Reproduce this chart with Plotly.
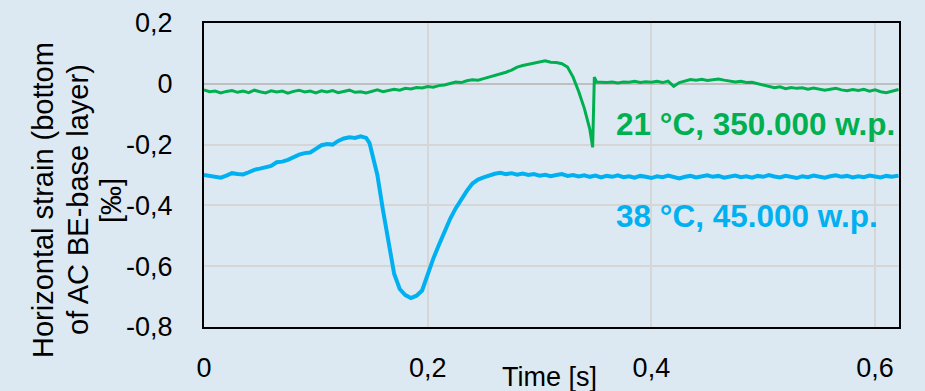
import plotly.graph_objects as go

# ---------------- data ----------------
green_t = [0.000, 0.005, 0.010, 0.015, 0.020, 0.025, 0.030, 0.035, 0.040, 0.045,
           0.050, 0.055, 0.060, 0.065, 0.070, 0.075, 0.080, 0.085, 0.090, 0.095,
           0.100, 0.105, 0.110, 0.115, 0.120, 0.125, 0.130, 0.135, 0.140, 0.145,
           0.150, 0.155, 0.160, 0.165, 0.170, 0.175, 0.180, 0.185, 0.190, 0.195,
           0.200, 0.205, 0.210, 0.215, 0.220, 0.225, 0.230, 0.235, 0.240, 0.245,
           0.250, 0.255, 0.260, 0.265, 0.270, 0.275, 0.280, 0.285, 0.290, 0.295,
           0.300, 0.305, 0.310, 0.315, 0.320, 0.325, 0.330, 0.335, 0.340, 0.345,
           0.3475, 0.3490, 0.3510, 0.355, 0.360, 0.365, 0.370, 0.375, 0.380, 0.385,
           0.390, 0.395, 0.400, 0.405, 0.410, 0.415, 0.420, 0.425, 0.430, 0.435,
           0.440, 0.445, 0.450, 0.455, 0.460, 0.465, 0.470, 0.475, 0.480, 0.485,
           0.490, 0.495, 0.500, 0.505, 0.510, 0.515, 0.520, 0.525, 0.530, 0.535,
           0.540, 0.545, 0.550, 0.555, 0.560, 0.565, 0.570, 0.575, 0.580, 0.585,
           0.590, 0.595, 0.600, 0.605, 0.610, 0.615, 0.621]
green_v = [-0.020, -0.026, -0.024, -0.030, -0.025, -0.022, -0.028, -0.024, -0.029, -0.021,
           -0.026, -0.030, -0.023, -0.027, -0.024, -0.031, -0.025, -0.021, -0.027, -0.024,
           -0.030, -0.023, -0.027, -0.022, -0.029, -0.025, -0.021, -0.028, -0.026, -0.030,
           -0.024, -0.020, -0.026, -0.022, -0.018, -0.021, -0.015, -0.017, -0.012, -0.014,
           -0.009, -0.011, -0.006, -0.004, 0.002, 0.006, 0.004, 0.010, 0.013, 0.012,
           0.017, 0.022, 0.028, 0.034, 0.038, 0.045, 0.055, 0.060, 0.064, 0.068,
           0.073, 0.076, 0.071, 0.070, 0.066, 0.055, 0.022, -0.025, -0.080, -0.150,
           -0.209, 0.022, 0.006, 0.005, 0.004, 0.006, 0.003, 0.006, 0.005, 0.008,
           0.004, 0.007, 0.005, 0.008, 0.004, 0.009, -0.008, 0.004, 0.010, 0.014,
           0.012, 0.015, 0.011, 0.013, 0.016, 0.012, 0.010, 0.006, 0.008, 0.004,
           0.005, 0.001, -0.004, -0.008, -0.013, -0.010, -0.016, -0.012, -0.015, -0.013,
           -0.018, -0.014, -0.017, -0.021, -0.018, -0.015, -0.020, -0.023, -0.019, -0.022,
           -0.018, -0.024, -0.020, -0.026, -0.029, -0.024, -0.019]

blue_t = [0.000, 0.005, 0.010, 0.015, 0.020, 0.025, 0.030, 0.035, 0.040, 0.045,
          0.050, 0.055, 0.060, 0.065, 0.070, 0.075, 0.080, 0.085, 0.090, 0.095,
          0.100, 0.105, 0.110, 0.115, 0.120, 0.125, 0.130, 0.135, 0.140, 0.145,
          0.148, 0.151, 0.155, 0.160, 0.165, 0.170, 0.175, 0.180, 0.185, 0.190,
          0.195, 0.200, 0.205, 0.210, 0.215, 0.220, 0.225, 0.230, 0.235, 0.240,
          0.245, 0.250, 0.255, 0.260, 0.265, 0.270, 0.275, 0.280, 0.285, 0.290,
          0.295, 0.300, 0.305, 0.310, 0.315, 0.320, 0.325, 0.330, 0.335, 0.340,
          0.345, 0.350, 0.355, 0.360, 0.365, 0.370, 0.375, 0.380, 0.385, 0.390,
          0.395, 0.400, 0.405, 0.410, 0.415, 0.420, 0.425, 0.430, 0.435, 0.440,
          0.445, 0.450, 0.455, 0.460, 0.465, 0.470, 0.475, 0.480, 0.485, 0.490,
          0.495, 0.500, 0.505, 0.510, 0.515, 0.520, 0.525, 0.530, 0.535, 0.540,
          0.545, 0.550, 0.555, 0.560, 0.565, 0.570, 0.575, 0.580, 0.585, 0.590,
          0.595, 0.600, 0.605, 0.610, 0.615, 0.621]
blue_v = [-0.300, -0.303, -0.306, -0.309, -0.302, -0.294, -0.297, -0.298, -0.291, -0.283,
          -0.279, -0.273, -0.270, -0.258, -0.256, -0.250, -0.240, -0.233, -0.228, -0.226,
          -0.214, -0.202, -0.198, -0.200, -0.188, -0.180, -0.176, -0.178, -0.173, -0.178,
          -0.195, -0.235, -0.300, -0.415, -0.525, -0.625, -0.675, -0.695, -0.705, -0.697,
          -0.680, -0.625, -0.575, -0.530, -0.485, -0.445, -0.410, -0.378, -0.352, -0.328,
          -0.315, -0.308, -0.301, -0.296, -0.293, -0.297, -0.294, -0.299, -0.295, -0.300,
          -0.297, -0.302, -0.299, -0.304, -0.300, -0.297, -0.303, -0.300, -0.305, -0.301,
          -0.306, -0.302, -0.308, -0.303, -0.306, -0.301, -0.307, -0.304, -0.309, -0.303,
          -0.306, -0.310, -0.304, -0.307, -0.302, -0.305, -0.311, -0.306, -0.303, -0.308,
          -0.304, -0.301, -0.306, -0.303, -0.309, -0.305, -0.302, -0.307, -0.304, -0.309,
          -0.303, -0.306, -0.300, -0.305, -0.308, -0.303, -0.306, -0.310, -0.304, -0.307,
          -0.302, -0.306, -0.309, -0.304, -0.301, -0.306, -0.303, -0.308, -0.304, -0.307,
          -0.302, -0.305, -0.308, -0.303, -0.306, -0.302]

x_tick_vals = [0, 0.2, 0.4, 0.6]
x_tick_text = ["0", "0,2", "0,4", "0,6"]
y_tick_vals = [-0.8, -0.6, -0.4, -0.2, 0, 0.2]
y_tick_text = ["-0,8", "-0,6", "-0,4", "-0,2", "0", "0,2"]

green_label = "21 °C, 350.000 w.p."
blue_label = "38 °C, 45.000 w.p."
y_title_lines = ["Horizontal strain (bottom", "of AC BE-base layer)", "[‰]"]
x_title = "Time [s]"

# ---------------- figure ----------------
FONT = "Liberation Sans, Arial, sans-serif"
BG = "#dde9f2"
GREEN = "#00b050"
BLUE = "#00b0f0"

fig = go.Figure()
fig.add_trace(go.Scatter(x=green_t, y=green_v, mode="lines",
                         line=dict(color=GREEN, width=3), showlegend=False))
fig.add_trace(go.Scatter(x=blue_t, y=blue_v, mode="lines",
                         line=dict(color=BLUE, width=4), showlegend=False))

W, H = 925, 391
L, R, T, B = 204, 26, 23, 64
pw, ph = W - L - R, H - T - B

def px_x(p):
    return (p - L) / pw

def px_y(p):
    return (H - B - p) / ph

fig.update_layout(
    width=W, height=H,
    margin=dict(l=L, r=R, t=T, b=B, autoexpand=False),
    paper_bgcolor=BG, plot_bgcolor=BG,
    font=dict(family=FONT, size=27, color="#000000"),
    showlegend=False,
)
fig.update_xaxes(
    range=[0, 0.6214], tickvals=x_tick_vals, ticktext=x_tick_text,
    showgrid=True, gridcolor="#d6d6d6", gridwidth=1.5,
    zeroline=False, showline=True, linecolor="#000000", linewidth=2, mirror=True,
    ticks="", ticklabelstandoff=16, tickfont=dict(size=27, family=FONT),
)
fig.update_yaxes(
    range=[-0.8, 0.2], tickvals=y_tick_vals, ticktext=y_tick_text,
    showgrid=True, gridcolor="#d6d6d6", gridwidth=1.5,
    zeroline=True, zerolinecolor="#bfbfbf", zerolinewidth=2,
    showline=True, linecolor="#000000", linewidth=2, mirror=True,
    ticks="", ticklabelstandoff=24, tickfont=dict(size=27, family=FONT),
)

# series labels
fig.add_annotation(x=px_x(614), y=px_y(124), xref="paper", yref="paper",
                   text="<b>" + green_label + "</b>", showarrow=False,
                   xanchor="left", yanchor="middle",
                   font=dict(family=FONT, size=31.5, color=GREEN))
fig.add_annotation(x=px_x(614), y=px_y(216), xref="paper", yref="paper",
                   text="<b>" + blue_label + "</b>", showarrow=False,
                   xanchor="left", yanchor="middle",
                   font=dict(family=FONT, size=31.5, color=BLUE))

# y-axis title (three rotated lines)
for line, xc in zip(y_title_lines, [43, 78, 111]):
    fig.add_annotation(x=px_x(xc), y=px_y(200), xref="paper", yref="paper",
                       text=line, showarrow=False, textangle=-90,
                       xanchor="center", yanchor="middle",
                       font=dict(family=FONT, size=29, color="#000000"))

# x-axis title
fig.add_annotation(x=px_x(549), y=px_y(377), xref="paper", yref="paper",
                   text=x_title, showarrow=False, xanchor="center", yanchor="middle",
                   font=dict(family=FONT, size=27, color="#000000"))

fig.write_html("out.html")
